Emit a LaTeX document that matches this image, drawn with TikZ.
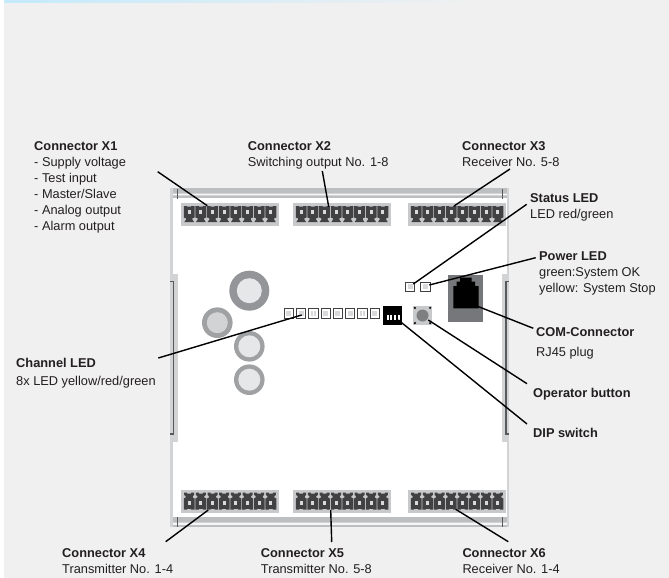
\documentclass[tikz,border=0pt]{standalone}
\usepackage{fontspec}
\setmainfont{Liberation Sans}
\usetikzlibrary{positioning}
\definecolor{bgc}{HTML}{F0F0F0}
\definecolor{topc}{HTML}{C4EAFB}
\definecolor{framec}{HTML}{D2D3D5}
\definecolor{railc}{HTML}{BCBEC0}
\definecolor{connc}{HTML}{C8C9CB}
\definecolor{pinc}{HTML}{414042}
\definecolor{sidec}{HTML}{58595B}
\definecolor{txtc}{HTML}{231F20}
\definecolor{ringa}{HTML}{939598}
\definecolor{ringb}{HTML}{A0A1A3}
\definecolor{discc}{HTML}{E6E7E8}
\definecolor{discd}{HTML}{D1D3D4}
\definecolor{ledc}{HTML}{D8D9DA}
\tikzset{
  x=1pt,y=-1pt,
  lab/.style={anchor=west,align=left,inner sep=0pt,text=txtc,font=\fontsize{12.8}{16}\selectfont},
  lead/.style={draw=black,line width=1.4pt},
  connbg/.style={fill=connc,draw=none,minimum width=98pt,minimum height=23pt,inner sep=0pt},
  ledbox/.style={draw=pinc,fill=white,line width=1pt,minimum size=9.4pt,inner sep=0pt},
  ledin/.style={fill=ledc,draw=none,minimum size=5pt,inner sep=0pt},
  pinsq/.style={fill=ledc,draw=none,minimum size=3.2pt,inner sep=0pt},
  pic1/.pic={
    \fill[pinc] (-5.4,-8.5) -- (-2,-8.5) -- (-2,-7.8) -- (2,-7.8) -- (2,-8.5) -- (5.4,-8.5) -- (5.4,3) -- (3.2,3.8) -- (3.2,5) -- (4.8,7.5) -- (-4.8,7.5) -- (-3.2,5) -- (-3.2,3.8) -- (-5.4,3) -- cycle;
    \node[pinsq] at (0,-2.5) {};
  },
  pic2/.pic={
    \fill[pinc] (-5.4,8) -- (-2,8) -- (-2,7.3) -- (2,7.3) -- (2,8) -- (5.4,8) -- (5.4,-3) -- (3.6,-4) -- (3.6,-5.5) -- (5,-6.5) -- (5,-9) -- (2,-9) -- (2,-8) -- (-2,-8) -- (-2,-9) -- (-5,-9) -- (-5,-6.5) -- (-3.6,-5.5) -- (-3.6,-4) -- (-5.4,-3) -- cycle;
    \node[pinsq] at (0,1.5) {};
  }
}
\begin{document}
\begin{tikzpicture}
\useasboundingbox (0,0) rectangle (669,578);
% page background
\fill[white] (0,0) rectangle (669,578);
\fill[bgc] (4,0) rectangle (669,578);
\shade[left color=topc,right color=bgc] (4,0) rectangle (470,3);
% housing
\fill[framec] (170,188) rectangle (509,527);
\fill[white] (173,198) rectangle (507,517);
\fill[framec] (173,274) rectangle (178,442);
\fill[framec] (502,274) rectangle (507,442);
% rails
\fill[railc] (173,188) rectangle (507,193);
\fill[railc] (173,196) rectangle (507,198);
\fill[white!80!framec] (173,193.5) rectangle (507,195);
\fill[railc] (173,517) rectangle (507,522);
\fill[railc] (173,525) rectangle (507,527);
\fill[white!80!framec] (173,523) rectangle (507,524.5);
\draw[sidec,line width=1pt] (177.5,189) -- (177.5,199);
\draw[sidec,line width=1pt] (502,189) -- (502,199);
\draw[sidec,line width=1pt] (177.5,517) -- (177.5,527);
\draw[sidec,line width=1pt] (502,517) -- (502,527);
\draw[sidec,line width=1.7pt] (170,281.5) -- (173.5,281.5) -- (173.5,434) -- (170,434);
\draw[sidec,line width=1.7pt] (509,281.5) -- (506,281.5) -- (506,434) -- (509,434);
% connector blocks
\node[connbg] (x1b) at (230,214.5) {};
\node[connbg] (x2b) at (342,214.5) {};
\node[connbg] (x3b) at (457,214.5) {};
\node[connbg] (x4b) at (230,501.5) {};
\node[connbg] (x5b) at (342,501.5) {};
\node[connbg] (x6b) at (457,501.5) {};
\foreach \c in {230,342,457}{
  \foreach \i in {0,...,7}{
    \pic at ({\c-40.8+\i*11.67},214.5) {pic1};
    \pic at ({\c-40.8+\i*11.67},501.5) {pic2};
  }
}
% discs
\node[circle,fill=ringa,minimum size=40pt,inner sep=0pt] (c1) at (249.3,290.7) {};
\node[circle,fill=discc,minimum size=25pt,inner sep=0pt] at (c1) {};
\node[circle,fill=ringb,minimum size=30.6pt,inner sep=0pt] (c2) at (217.3,322.7) {};
\node[circle,fill=discd,minimum size=21pt,inner sep=0pt] at (c2) {};
\node[circle,fill=ringb,minimum size=30.6pt,inner sep=0pt] (c3) at (249.3,346.3) {};
\node[circle,fill=discc,minimum size=22pt,inner sep=0pt] at (c3) {};
\node[circle,fill=ringb,minimum size=30.6pt,inner sep=0pt] (c4) at (249.3,379.7) {};
\node[circle,fill=discc,minimum size=22pt,inner sep=0pt] at (c4) {};
% channel LEDs
\foreach \i/\px in {1/288.7,2/301.2,3/313.4,4/325.7,5/337.9,6/350.1,7/362.4,8/374.7}{
  \node[ledbox] (led\i) at (\px,313.4) {};
  \node[ledin] at (led\i) {};
}
\foreach \i in {3,7}{
  \fill[white] ([xshift=-0.6pt,yshift=-3pt]led\i.center) rectangle ([xshift=0.6pt,yshift=3pt]led\i.center);
}
% status LEDs
\node[ledbox] (st) at (410,286.7) {};
\node[ledin] at (st) {};
\node[ledbox] (pw) at (425.3,286.7) {};
\node[ledin] at (pw) {};
% DIP switch
\node[fill=black,minimum size=19pt,inner sep=0pt] (dip) at (392.6,315.5) {};
\foreach \px in {387.5,391.3,395.1,398.9}{
  \fill[white] (\px-1,315) rectangle (\px+1,320);
}
% button
\node[fill=connc,minimum size=19.5pt,inner sep=0pt] (btn) at (422.5,315.5) {};
\node[circle,fill=ringa!85!black,minimum size=12pt,inner sep=0pt] at (btn) {};
\foreach \a/\b in {-1/-1,1/-1,-1/1,1/1}{
  \fill[black] ({422.5+\a*7.6},{315.5+\b*7.6}) circle (1.2);
}
% RJ45
\node[fill=ringa!80!black,minimum width=35pt,minimum height=46.7pt,inner sep=0pt] (rj) at (465.5,298.4) {};
\fill[black] (460,277.7) -- (471.7,277.7) -- (471.7,281.5) -- (475,281.5) -- (475,286) -- (478.7,286) -- (478.7,308.3) -- (453.3,308.3) -- (453.3,286) -- (456.5,286) -- (456.5,281.5) -- (460,281.5) -- cycle;
% labels
\node[lab,anchor=north west] (lx1) at (34,141.5) {\textbf{Connector X1}\\- Supply voltage\\- Test input\\- Master/Slave\\- Analog output\\- Alarm output};
\node[lab,anchor=north west] (lx2) at (247.7,141.5) {\textbf{Connector X2}\\Switching output No. 1-8};
\node[lab,anchor=north west] (lx3) at (462,141.5) {\textbf{Connector X3}\\Receiver No. 5-8};
\node[lab,anchor=north west] (lst) at (530,193) {\textbf{Status LED}\\LED red/green};
\node[lab,anchor=north west] (lpw) at (539,251.5) {\textbf{Power LED}\\green:System OK\\yellow: System Stop};
\node[lab,anchor=north west] (lcom) at (536,327) {\textbf{COM-Connector}\\[4pt]RJ45 plug};
\node[lab] (lop) at (533,394.5) {\textbf{Operator button}};
\node[lab] (ldip) at (533,433) {\textbf{DIP switch}};
\node[lab,anchor=north west] (lch) at (16,358.5) {\textbf{Channel LED}\\[2pt]8x LED yellow/red/green};
\node[lab,anchor=north west] (lx4) at (62,548.5) {\textbf{Connector X4}\\Transmitter No. 1-4};
\node[lab,anchor=north west] (lx5) at (260.7,548.5) {\textbf{Connector X5}\\Transmitter No. 5-8};
\node[lab,anchor=north west] (lx6) at (462.3,548.5) {\textbf{Connector X6}\\Receiver No. 1-4};
% leader end points
\coordinate (a1) at (157.7,171.7); \coordinate (b1) at (207.3,205.7);
\coordinate (a2) at (322.3,171);   \coordinate (b2) at (328.7,206.7);
\coordinate (a3) at (510,169);     \coordinate (b3) at (454,206);
\coordinate (a4) at (526.7,204.3); \coordinate (b4) at (413.3,284);
\coordinate (a5) at (535.7,257.7); \coordinate (b5) at (429.3,285);
\coordinate (a6) at (533.3,328.3); \coordinate (b6) at (474.3,305);
\coordinate (a7) at (527,383.7);   \coordinate (b7) at (428.3,320);
\coordinate (a8) at (527,424);     \coordinate (b8) at (398.3,320);
\coordinate (a9) at (158.3,358);   \coordinate (b9) at (301.7,315);
\coordinate (a10) at (165.7,541.7);\coordinate (b10) at (208.3,510);
\coordinate (a11) at (331.7,542);  \coordinate (b11) at (330.7,510);
\coordinate (a12) at (508.3,541.7);\coordinate (b12) at (455.7,509.3);
\foreach \n in {1,...,12}{ \draw[lead] (a\n) -- (b\n); }
\end{tikzpicture}
\end{document}
